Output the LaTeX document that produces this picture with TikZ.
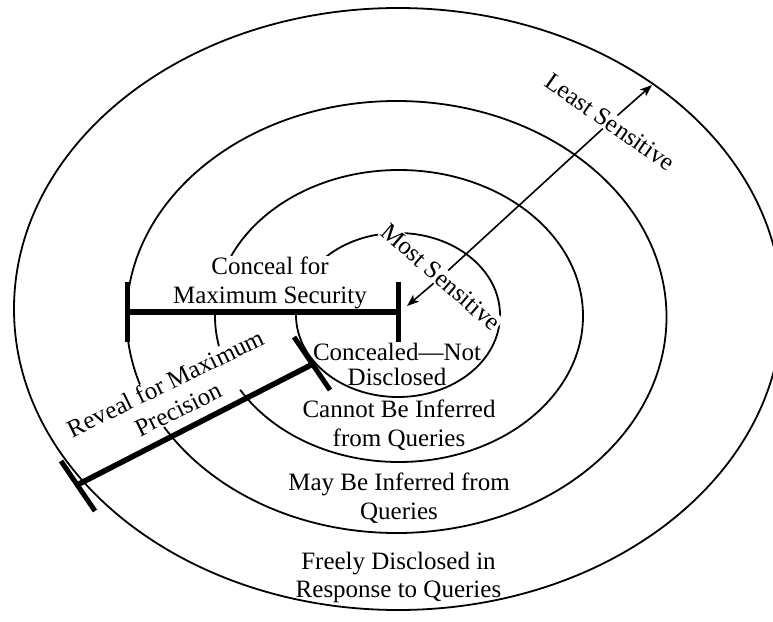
\documentclass[tikz,border=0pt]{standalone}
\usepackage{fontspec}
\setmainfont{Liberation Serif}
\usetikzlibrary{arrows.meta}
\begin{document}
\begin{tikzpicture}[x=1pt,y=-1pt,
  ring/.style={line width=1.8pt},
  bar/.style={line width=5.5pt},
  tick/.style={line width=5pt},
  lbl/.style={font=\fontsize{25}{28.5}\selectfont, align=center, inner sep=1pt},
  wlbl/.style={lbl, fill=white},
  arr/.style={line width=1.6pt, -{Stealth[length=12pt,width=9pt,inset=3pt]}}]
\useasboundingbox[fill=white] (0,0) rectangle (773,621);
% rings
\draw[ring] (398,309) ellipse [x radius=384, y radius=301];
\draw[ring] (396.5,317) ellipse [x radius=270, y radius=216];
\draw[ring] (399,316) ellipse [x radius=184, y radius=146];
\draw[ring] (398,315) ellipse [x radius=102, y radius=82];
% labels
\node[wlbl] (conceal) at (270,283) {Conceal for\\Maximum Security};
\node[wlbl, rotate=-41] (most) at (441,277) {Most Sensitive};
\node[wlbl, rotate=-35] (least) at (610,122) {Least Sensitive};
\node[wlbl, rotate=26] (reveal) at (172,396) {Reveal for Maximum\\Precision};
\node[lbl, font=\fontsize{25}{25}\selectfont] (concealed) at (397,364) {Concealed—Not\\Disclosed};
\node[lbl] (cannot) at (399,425) {Cannot Be Inferred\\from Queries};
\node[lbl] (may) at (399,498) {May Be Inferred from\\Queries};
\node[lbl] (freely) at (398.5,577.5) {Freely Disclosed in\\Response to Queries};
% sensitivity axis
\coordinate (tipM) at (407,306);
\coordinate (tipL) at (652,85);
\draw[arr] (most) -- (tipM);
\draw[line width=1.6pt] (most) -- (least);
\draw[arr] (least) -- (tipL);
% conceal bar
\coordinate (hbL) at (127,312);
\coordinate (hbR) at (398,312);
\coordinate (hbLt) at (127,282);
\coordinate (hbLb) at (127,342);
\coordinate (hbRt) at (398,282);
\coordinate (hbRb) at (398,342);
\draw[bar] (hbL) -- (hbR);
\draw[tick] (hbLt) -- (hbLb);
\draw[tick] (hbRt) -- (hbRb);
% reveal bar
\coordinate (rbO) at (79,484);
\coordinate (rbI) at (311,365);
\coordinate (rbOt) at (61,461);
\coordinate (rbOb) at (95,511);
\coordinate (rbIt) at (294,337);
\coordinate (rbIb) at (330,390);
\draw[bar] (rbO) -- (rbI);
\draw[tick] (rbOt) -- (rbOb);
\draw[tick] (rbIt) -- (rbIb);
\end{tikzpicture}
\end{document}
